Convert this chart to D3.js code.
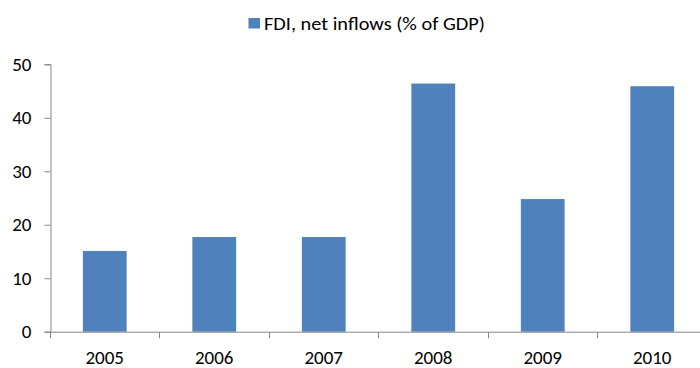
<!DOCTYPE html>
<html>
<head>
<meta charset="utf-8">
<script src="https://cdn.jsdelivr.net/npm/d3@7"></script>
<style>
  body { margin: 0; background: #fff; }
  svg { display: block; }
</style>
</head>
<body>
<div id="chart"></div>
<script>
var w = 700
var h = 368

// data
var years = ["2005", "2006", "2007", "2008", "2009", "2010"]
var fdi = [15.1, 17.7, 17.7, 46.4, 24.8, 45.9]
var yTicks = [0, 10, 20, 30, 40, 50]
var seriesName = "FDI, net inflows (% of GDP)"

var barColor = "#4f81bd"
var axisColor = "#868686"
var font = "Carlito, Calibri, Lato, sans-serif"

var svg = d3.select("#chart").append("svg")
    .attr("width", w)
    .attr("height", h)

var x = d3.scaleBand()
    .domain(years)
    .range([50, 707])
    .paddingInner(0.6)
    .paddingOuter(0.3)

var y = d3.scaleLinear()
    .domain([0, 50])
    .range([331.7, 64.3])

// bars
svg.append("g").selectAll("rect")
    .data(fdi)
    .join("rect")
    .attr("x", function (d, i) { return x(years[i]) })
    .attr("y", function (d) { return y(d) })
    .attr("width", x.bandwidth())
    .attr("height", function (d) { return y(0) - y(d) })
    .attr("fill", barColor)

// y axis
var yAxis = svg.append("g")
    .attr("transform", "translate(50.5,0)")
    .call(d3.axisLeft(y).tickValues(yTicks).tickSize(6).tickPadding(13))
yAxis.select(".domain").attr("stroke", axisColor)
yAxis.selectAll(".tick line").attr("stroke", axisColor)
yAxis.selectAll("text")
    .attr("fill", "#000")
    .style("font-family", font)
    .style("font-size", "19px")

// x axis, ticks sit between the categories
var xAxisG = svg.append("g")
    .attr("transform", "translate(0," + (y(0) + 0.5) + ")")
xAxisG.append("line")
    .attr("x1", 50).attr("x2", w)
    .attr("stroke", axisColor)
var step = x.step()
var bounds = years.map(function (d) { return x(d) - x.paddingInner() * step / 2 })
xAxisG.selectAll(".sep")
    .data(bounds)
    .join("line")
    .attr("x1", function (d) { return Math.round(d) + 0.5 })
    .attr("x2", function (d) { return Math.round(d) + 0.5 })
    .attr("y1", 0).attr("y2", 6)
    .attr("stroke", axisColor)
xAxisG.selectAll(".lbl")
    .data(years)
    .join("text")
    .attr("x", function (d) { return x(d) + x.bandwidth() / 2 })
    .attr("y", 32)
    .attr("text-anchor", "middle")
    .style("font-family", font)
    .style("font-size", "19px")
    .text(function (d) { return d })

// legend
var legend = svg.append("g")
legend.append("rect")
    .attr("x", 248.5).attr("y", 18)
    .attr("width", 11.5).attr("height", 10.5)
    .attr("fill", barColor)
legend.append("text")
    .attr("x", 264).attr("y", 29.5)
    .attr("textLength", 221)
    .attr("lengthAdjust", "spacingAndGlyphs")
    .style("font-family", font)
    .style("font-size", "19px")
    .text(seriesName)
</script>
</body>
</html>
